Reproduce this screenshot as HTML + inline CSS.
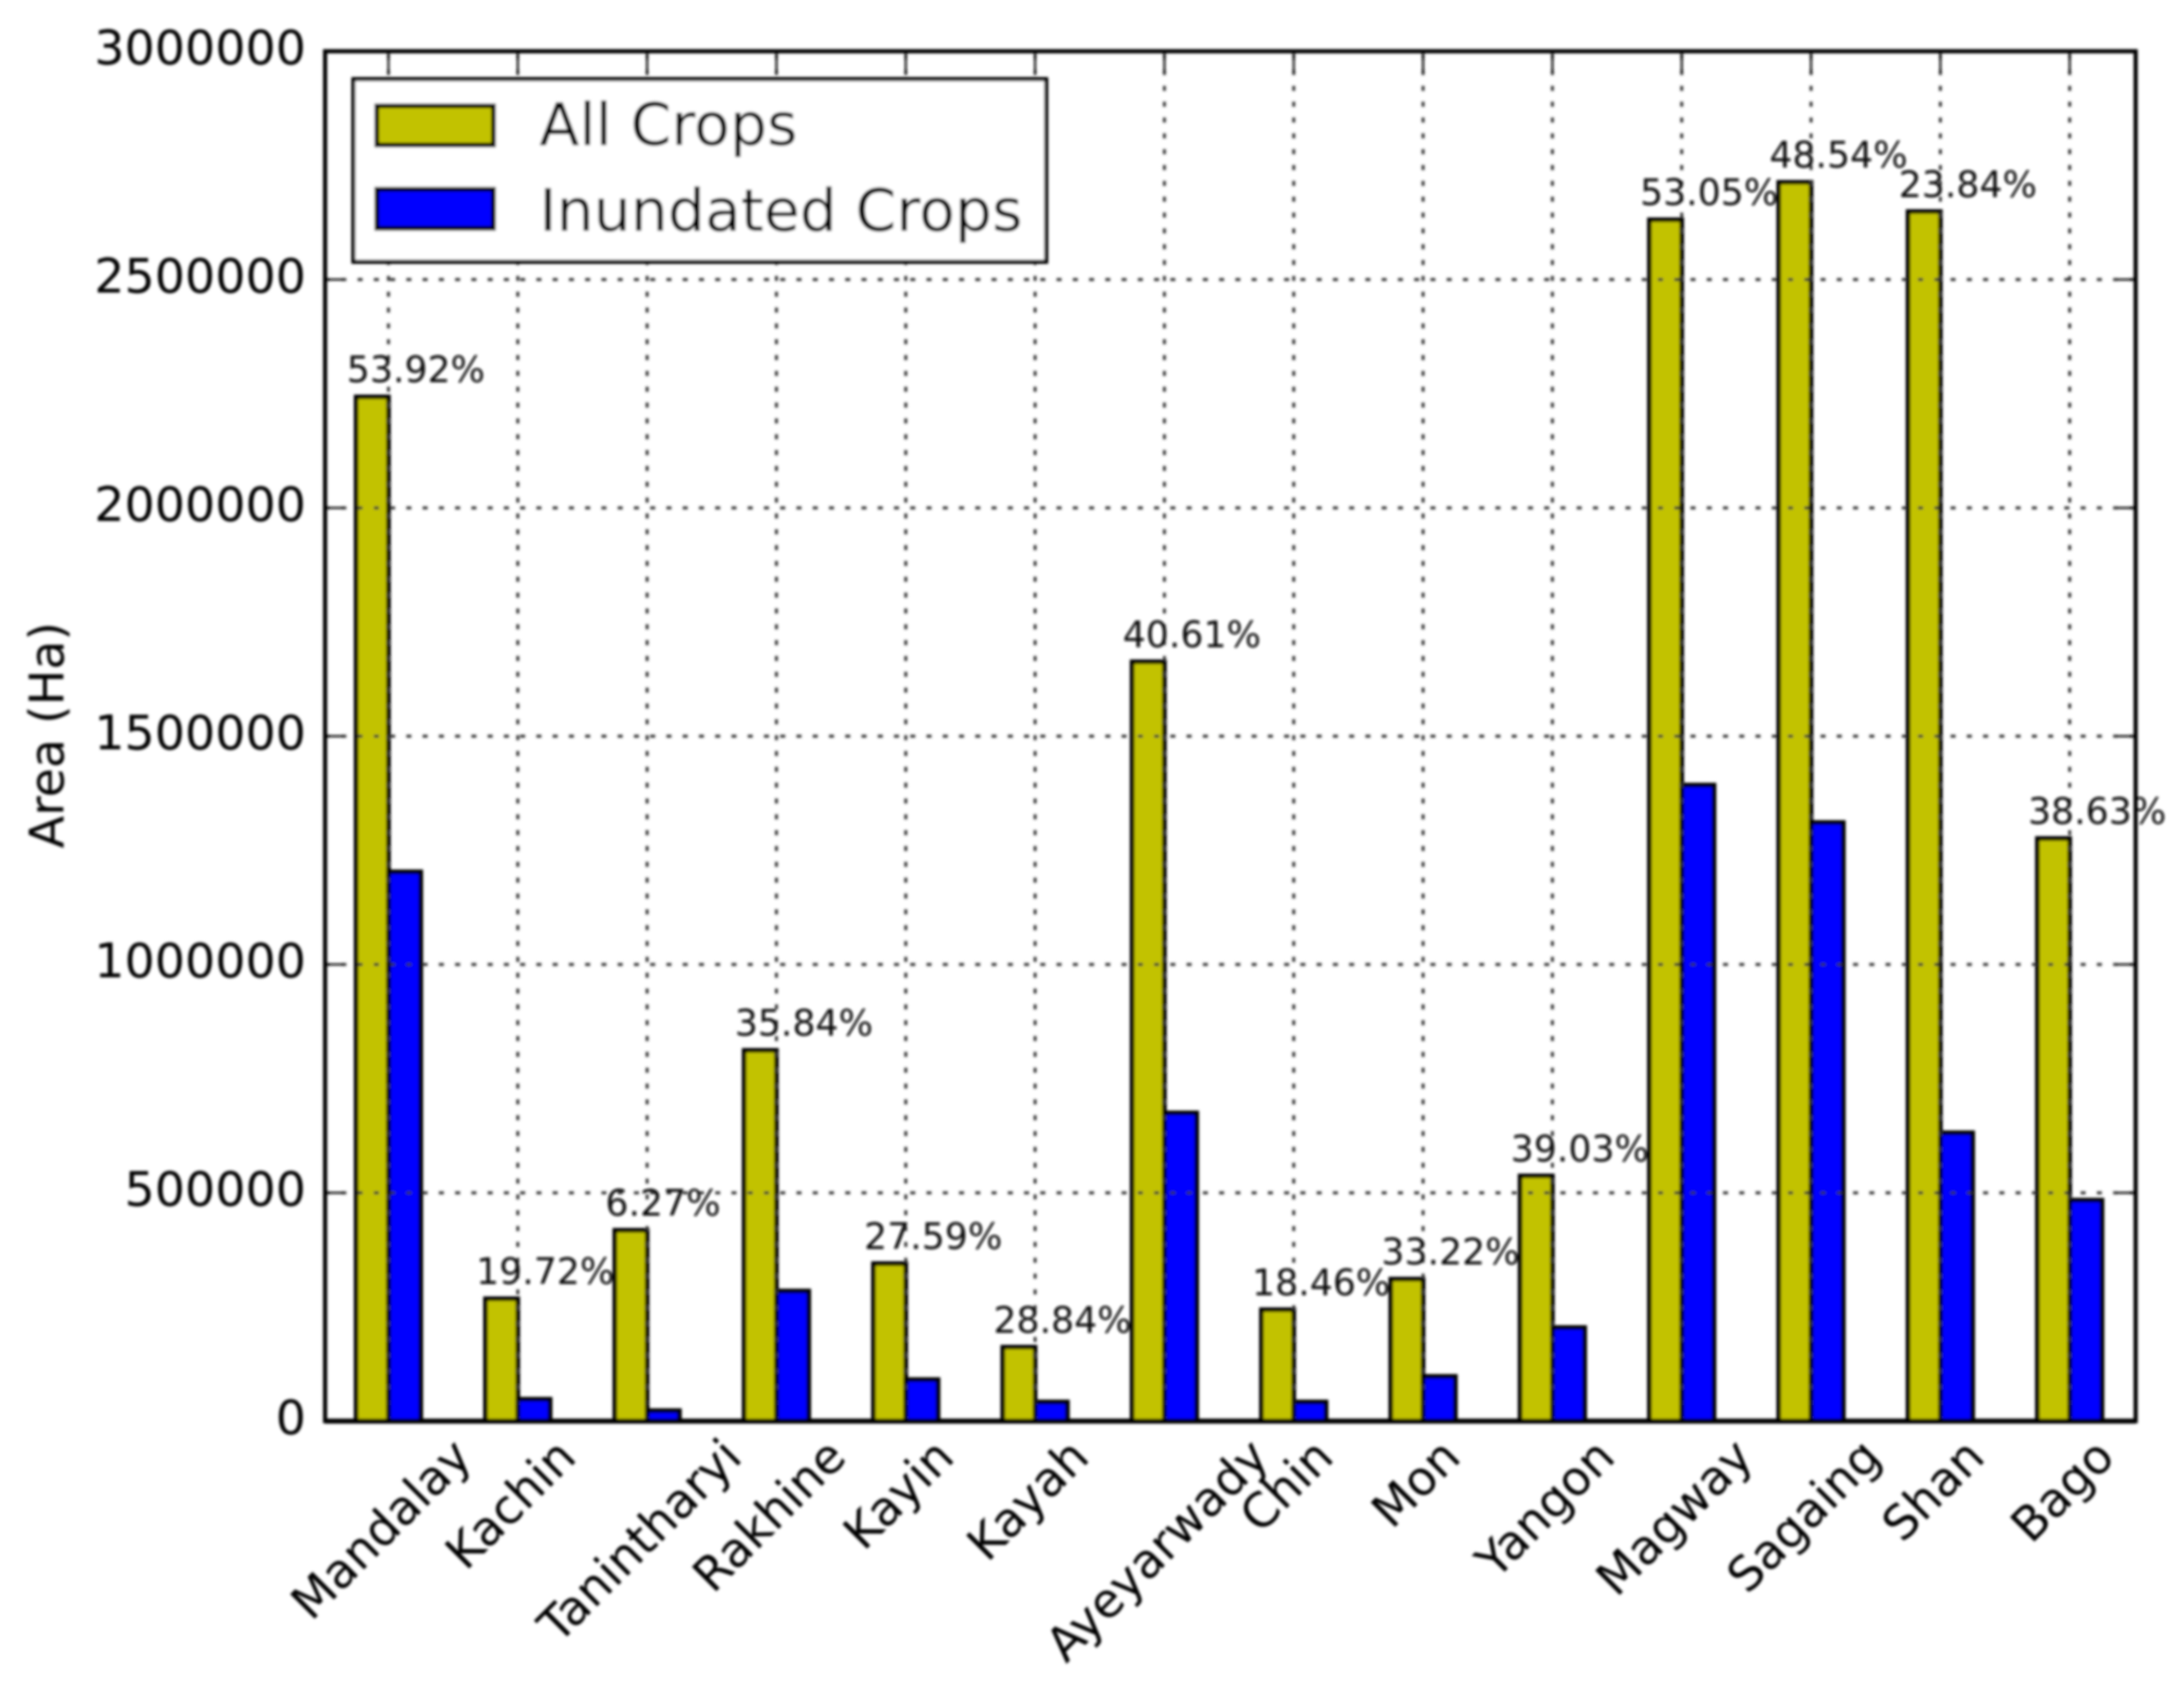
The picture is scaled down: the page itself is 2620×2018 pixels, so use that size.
<!DOCTYPE html>
<html lang="en">
<head>
<meta charset="utf-8">
<title>Crop area by region</title>
<style>
html,body{margin:0;padding:0;background:#fff;}
svg{display:block;}
text{font-family:"DejaVu Sans","Liberation Sans",sans-serif;fill:#000;}
</style>
</head>
<body>
<svg id="chart" xmlns="http://www.w3.org/2000/svg" width="2620" height="2018" viewBox="0 0 2620 2018">
  <defs>
    <filter id="soft" x="-2%" y="-2%" width="104%" height="104%">
      <feGaussianBlur stdDeviation="1.6"/>
    </filter>
  </defs>
  <rect x="0" y="0" width="2620" height="2018" fill="#fff"/>
  <g id="root" filter="url(#soft)"></g>
</svg>
<script>
const categories = ["Mandalay","Kachin","Tanintharyi","Rakhine","Kayin","Kayah","Ayeyarwady","Chin","Mon","Yangon","Magway","Sagaing","Shan","Bago"];
const allCrops = [2243000,268000,418000,812000,345000,162000,1663000,244000,311000,537000,2631000,2713000,2649000,1276000];
const inundatedCrops = [1203000,48000,23000,285000,91000,42000,675000,42000,98000,205000,1393000,1311000,631500,484000];
const percentLabels = ["53.92%","19.72%","6.27%","35.84%","27.59%","28.84%","40.61%","18.46%","33.22%","39.03%","53.05%","48.54%","23.84%","38.63%"];
const yTicks = [0,500000,1000000,1500000,2000000,2500000,3000000];
const yMax = 3000000;

const NS = "http://www.w3.org/2000/svg";
const root = document.getElementById("root");
const plot = {left:390, right:2562, top:61.5, bottom:1705};
const unit = (plot.right - plot.left) / 14;
const barW = unit / 4;

function xScale(pos){ return plot.left + unit * (pos + 0.49); }
function yScale(v){ return plot.bottom - (v / yMax) * (plot.bottom - plot.top); }
function make(tag, attrs, parent){
  const el = document.createElementNS(NS, tag);
  for (const k in attrs) el.setAttribute(k, attrs[k]);
  (parent || root).appendChild(el);
  return el;
}

// bars
categories.forEach(function(c, i){
  const cx = xScale(i);
  const a = make("rect", {x:cx - barW, y:yScale(allCrops[i]), width:barW, height:plot.bottom - yScale(allCrops[i]), fill:"#c2c200", stroke:"#000", "stroke-width":5.5});
  
  
  const b = make("rect", {x:cx, y:yScale(inundatedCrops[i]), width:barW, height:plot.bottom - yScale(inundatedCrops[i]), fill:"#0000ff", stroke:"#000", "stroke-width":5.5});
  
  
});

// grid (drawn above the bars) and ticks
categories.forEach(function(c, i){
  const x = xScale(i);
  const g = make("line", {x1:x, x2:x, y1:plot.bottom, y2:plot.top, stroke:"#333", "stroke-width":3.5, "stroke-dasharray":"6 13"});
  
  
  const t1 = make("line", {x1:x, x2:x, y1:plot.top, y2:plot.top + 26, stroke:"#111", "stroke-width":2.5});
  
  
  const t2 = make("line", {x1:x, x2:x, y1:plot.bottom, y2:plot.bottom - 26, stroke:"#111", "stroke-width":2.5});
  
  
});
yTicks.forEach(function(v){
  const y = yScale(v);
  const g = make("line", {x1:plot.left, x2:plot.right, y1:y, y2:y, stroke:"#333", "stroke-width":3.5, "stroke-dasharray":"6 13.5"});
  
  
  const t1 = make("line", {x1:plot.left, x2:plot.left + 22, y1:y, y2:y, stroke:"#111", "stroke-width":2.5});
  
  
  const t2 = make("line", {x1:plot.right, x2:plot.right - 22, y1:y, y2:y, stroke:"#111", "stroke-width":2.5});
  
  
  const l = make("text", {x:367, y:y + 15.5, "text-anchor":"end", "font-size":57});
  
  
  l.textContent = String(v);
});

// percent labels
categories.forEach(function(c, i){
  const l = make("text", {x:xScale(i) - 50, y:yScale(allCrops[i]) - 17.5, "font-size":43.5, style:"fill:#111"});
  
  
  l.textContent = percentLabels[i];
});

// category labels, rotated 45 degrees, top aligned
categories.forEach(function(c, i){
  const l = make("text", {x:0, y:0, "text-anchor":"middle", "font-size":57});
  
  
  l.textContent = c;
  const w = l.getComputedTextLength();
  const span = (w + 45) * Math.SQRT1_2;
  const cx = xScale(i) - 7;
  const cy = 1723 + span / 2;
  l.setAttribute("y", 17);
  l.setAttribute("transform", "translate(" + cx + "," + cy + ") rotate(-45)");
});

// axes frame
const frame = make("rect", {x:plot.left, y:plot.top, width:plot.right - plot.left, height:plot.bottom - plot.top, fill:"none", stroke:"#000", "stroke-width":5});


const baseline = make("line", {x1:plot.left, x2:plot.right, y1:plot.bottom, y2:plot.bottom, stroke:"#000", "stroke-width":6});



// y axis title
const yTitle = make("text", {x:0, y:0, "text-anchor":"middle", "font-size":57, transform:"translate(76,882) rotate(-90)"});


yTitle.textContent = "Area (Ha)";

// legend
const legend = make("g", {});


const legendBox = make("rect", {x:424, y:95, width:831, height:219, fill:"#fff", stroke:"#000", "stroke-width":5}, legend);


const swatchA = make("rect", {x:452, y:127, width:140, height:47, fill:"#c2c200", stroke:"#000", "stroke-width":5.5}, legend);


const swatchB = make("rect", {x:452, y:227, width:140, height:47, fill:"#0000ff", stroke:"#000", "stroke-width":5.5}, legend);


const textA = make("text", {x:647, y:174, "font-size":70.2}, legend);


textA.textContent = "All Crops";
const textB = make("text", {x:647, y:277, "font-size":70.2}, legend);


textB.textContent = "Inundated Crops";
</script>
</body>
</html>
